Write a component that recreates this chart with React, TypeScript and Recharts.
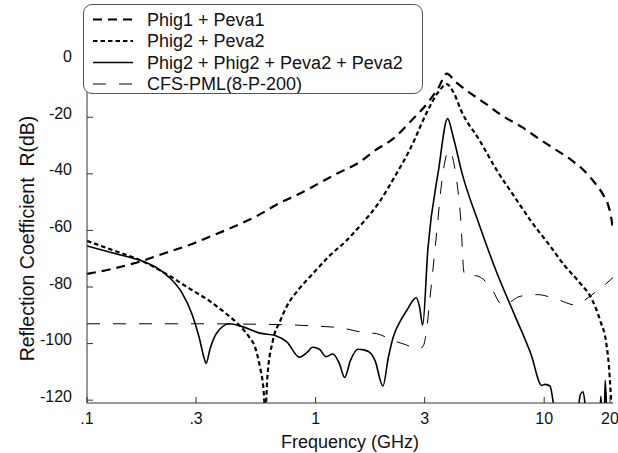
import React from 'react';
import { LineChart, Line, XAxis, YAxis, Legend } from 'recharts';

const freqTicks = [0.1, 0.3, 1, 3, 10, 20];
const freqTickLabels = ['.1', '.3', '1', '3', '10', '20'];
const dbTicks = [0, -20, -40, -60, -80, -100, -120];

const seriesNames = ['Phig1 + Peva1', 'Phig2 + Peva2', 'Phig2 + Phig2 + Peva2 + Peva2', 'CFS-PML(8-P-200)'];

const phig1Freq = [0.1, 0.13, 0.174, 0.22, 0.288, 0.35, 0.43, 0.55, 0.7, 0.85, 1.0, 1.2, 1.56, 1.8, 2.2, 2.6, 3.1, 3.45, 3.75, 4.1, 4.7, 5.5, 6.6, 8, 9.4, 11, 13.2, 15, 16.8, 18, 19, 19.6, 20];
const phig1Db = [-75.4, -73.5, -70.8, -68, -64.8, -62, -59, -55, -50.2, -47, -44, -40.5, -35.8, -32, -27.4, -21.5, -14.8, -9.5, -4.6, -7.5, -11.2, -15, -19.6, -23.5, -27.4, -31, -35.2, -39, -43.6, -47, -50.8, -55, -59.8];

const phig2Freq = [0.1, 0.13, 0.174, 0.229, 0.28, 0.343, 0.4, 0.45, 0.513, 0.545, 0.57, 0.59, 0.603, 0.615, 0.65, 0.7, 0.744, 0.85, 0.97, 1.15, 1.36, 1.6, 1.9, 2.2, 2.6, 3.1, 3.45, 3.75, 4.0, 4.37, 5.2, 6.2, 7.4, 8.75, 10.5, 12.3, 14.3, 16.2, 17.6, 18.7, 19.2, 19.6, 19.8];
const phig2Db = [-63.7, -67, -70.8, -76, -80.5, -84.9, -89, -92.5, -97.8, -101.5, -108, -115, -124, -112, -99, -92, -87.2, -80.5, -75.4, -69, -63.7, -57.5, -50, -41.5, -31, -17.5, -11, -8.3, -11, -18.3, -28, -38.7, -48, -56.7, -65, -72.5, -78.5, -84.5, -92, -100, -108, -119.4, -126];

const comboFreq = [0.1, 0.13, 0.174, 0.2, 0.229, 0.26, 0.288, 0.31, 0.325, 0.332, 0.345, 0.367, 0.42, 0.478, 0.57, 0.67, 0.75, 0.85, 0.92, 0.97, 1.04, 1.11, 1.19, 1.27, 1.34, 1.42, 1.53, 1.62, 1.72, 1.82, 1.97, 2.08, 2.18, 2.36, 2.5, 2.65, 2.75, 2.85, 2.94, 3.1, 3.45, 3.78, 4.0, 4.38, 5.2, 6.2, 7.37, 8.75, 9.76, 10.1, 10.6, 11, 11.3, 13.9, 14.4, 14.8, 15.4, 17.5, 17.7, 17.9, 18.3, 18.5, 18.8];
const comboDb = [-65.5, -68, -70.8, -73, -76.6, -82, -89.6, -98, -105, -107, -102, -96.6, -93, -94, -96.3, -97.2, -99.5, -104.8, -103, -101.3, -102, -104.6, -103.7, -107, -112, -106, -102, -102.2, -103, -106, -115, -105, -98, -91.7, -88.4, -85, -83.8, -87, -93.5, -66.4, -38.7, -20.5, -27, -40, -58, -74.9, -89.3, -103.7, -114.8, -114.4, -115, -122, -130, -126, -118, -117, -126, -126, -118.6, -126, -126, -113, -126];

const cfsFreq = [0.1, 0.3, 0.6, 1.0, 1.3, 1.6, 1.85, 2.2, 2.5, 2.8, 2.95, 3.05, 3.16, 3.39, 3.57, 3.83, 4.1, 4.32, 4.46, 4.7, 5.0, 5.78, 6.6, 7.85, 9.35, 11.5, 13.6, 16.2, 20];
const cfsDb = [-93, -93, -93.2, -93.8, -94.5, -96, -96.5, -99, -100.5, -102, -101, -96, -84.5, -60.4, -42.4, -31.7, -40, -56.7, -74.9, -76.7, -76, -79.6, -86.5, -83.3, -82.7, -84.5, -86.3, -82.7, -76.7];

const zip = (fs: number[], ds: number[]) => fs.map((f, i) => ({ f, r: ds[i] }));

const phig1Data = zip(phig1Freq, phig1Db);
const phig2Data = zip(phig2Freq, phig2Db);
const comboData = zip(comboFreq, comboDb);
const cfsData = zip(cfsFreq, cfsDb);

const FONT = '"Liberation Sans", Arial, Helvetica, sans-serif';
const AXIS = '#333';
const TICK_LEN = 6;
const X_MARGIN = 9;
const Y_MARGIN = 15;

const styles = [
  { dash: '9 6', width: 2.2 },
  { dash: '4.5 3', width: 2.2 },
  { dash: undefined as string | undefined, width: 1.6 },
  { dash: '13 13', width: 1 },
];

const XTick = (props: any) => {
  const { x, y, payload } = props;
  const idx = freqTicks.indexOf(payload.value);
  const label = idx >= 0 ? freqTickLabels[idx] : String(payload.value);
  const axisY = y - X_MARGIN;
  return (
    <g>
      <line x1={x} x2={x} y1={axisY} y2={axisY - TICK_LEN} stroke={AXIS} strokeWidth={1} />
      <text x={x} y={y + 12} textAnchor="middle" fontSize={16} fontFamily={FONT} fill="#111">{label}</text>
    </g>
  );
};

const YTick = (props: any) => {
  const { x, y, payload } = props;
  const axisX = x + Y_MARGIN;
  return (
    <g>
      <line x1={axisX} x2={axisX + TICK_LEN} y1={y} y2={y} stroke={AXIS} strokeWidth={1} />
      <text x={x} y={y + 1.5} textAnchor="end" fontSize={16} fontFamily={FONT} fill="#111">{payload.value}</text>
    </g>
  );
};

const YLabel = (props: any) => {
  const vb = props.viewBox || { x: 0, y: 42, width: 87, height: 361 };
  const cx = vb.x + 27;
  const cy = vb.y + vb.height / 2 + 16;
  return (
    <text x={cx} y={cy} transform={`rotate(-90, ${cx}, ${cy})`} textAnchor="middle" dominantBaseline="central" fontSize={19.5} fontFamily={FONT} fill="#111" style={{ whiteSpace: 'pre' }}>
      {'Reflection Coefficient  R(dB)'}
    </text>
  );
};

const LegendBox = () => (
  <div style={{ width: 338, height: 88, border: '1px solid #555', borderRadius: 9, background: '#fff', boxSizing: 'content-box' }}>
    <svg width={338} height={88} style={{ display: 'block' }}>
      {seriesNames.map((name, i) => {
        const cy = 14.5 + i * 21.5;
        return (
          <g key={name}>
            <line x1={9} x2={49} y1={cy} y2={cy} stroke="#000" strokeWidth={styles[i].width} strokeDasharray={styles[i].dash} />
            <text x={63} y={cy + 6} fontSize={18} fontFamily={FONT} fill="#111">{name}</text>
          </g>
        );
      })}
    </svg>
  </div>
);

export default function App() {
  return (
    <div style={{ position: 'absolute', left: 0, top: 0, width: 618, height: 453, background: '#fff' }}>
      <LineChart width={618} height={453} margin={{ top: 42, right: 5, bottom: 0, left: 0 }}>
        <XAxis
          dataKey="f"
          type="number"
          scale="log"
          domain={[0.1, 20]}
          ticks={freqTicks}
          allowDataOverflow
          height={50}
          tickSize={0}
          tickMargin={X_MARGIN}
          tick={<XTick />}
          axisLine={{ stroke: AXIS, strokeWidth: 1 }}
          tickLine={false}
          label={{ value: 'Frequency (GHz)', position: 'insideBottom', offset: 5, fontSize: 18, fontFamily: FONT, fill: '#111' }}
        />
        <YAxis
          type="number"
          domain={[-121, 6.6]}
          ticks={dbTicks}
          allowDataOverflow
          width={87}
          tickSize={0}
          tickMargin={Y_MARGIN}
          tick={<YTick />}
          axisLine={{ stroke: AXIS, strokeWidth: 1 }}
          tickLine={false}
          label={{ content: <YLabel /> }}
        />
        <XAxis xAxisId="top" orientation="top" height={0} type="number" domain={[0, 1]} tick={false} tickLine={false} axisLine={{ stroke: AXIS, strokeWidth: 1 }} />
        <YAxis yAxisId="right" orientation="right" width={0} type="number" domain={[0, 1]} tick={false} tickLine={false} axisLine={{ stroke: AXIS, strokeWidth: 1 }} />
        <Line data={phig1Data} dataKey="r" name={seriesNames[0]} type="monotone" stroke="#000" strokeWidth={styles[0].width} strokeDasharray={styles[0].dash} dot={false} isAnimationActive={false} />
        <Line data={phig2Data} dataKey="r" name={seriesNames[1]} type="monotone" stroke="#000" strokeWidth={styles[1].width} strokeDasharray={styles[1].dash} dot={false} isAnimationActive={false} />
        <Line data={comboData} dataKey="r" name={seriesNames[2]} type="monotone" stroke="#000" strokeWidth={styles[2].width} dot={false} isAnimationActive={false} />
        <Line data={cfsData} dataKey="r" name={seriesNames[3]} type="monotone" stroke="#000" strokeWidth={styles[3].width} strokeDasharray={styles[3].dash} dot={false} isAnimationActive={false} />
        <Legend
          layout="horizontal"
          verticalAlign="middle"
          align="center"
          content={<LegendBox />}
          wrapperStyle={{ position: 'absolute', left: 83, top: 4, width: 340, height: 90 }}
        />
      </LineChart>
    </div>
  );
}
